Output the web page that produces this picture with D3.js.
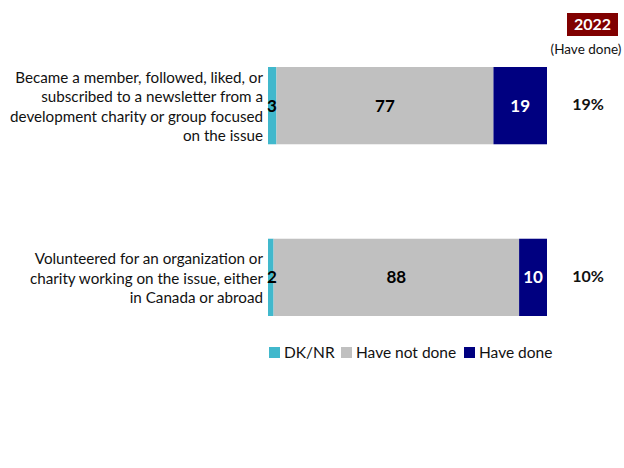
<!DOCTYPE html>
<html><head><meta charset="utf-8">
<script src="https://cdn.jsdelivr.net/npm/d3@7"></script>
<style>body{margin:0;background:#fff;} svg{display:block;font-family:Lato,"Open Sans",sans-serif;}</style>
</head><body>
<svg id="c" width="624" height="468"></svg>
<script>
const categories = [
  ["Became a member, followed, liked, or","subscribed to a newsletter from a","development  charity or group focused","on the issue"],
  ["Volunteered  for an organization or","charity working on the issue, either","in Canada or abroad"]
];
const seriesNames = ["DK/NR","Have not done","Have done"];
const dknr = [3, 2];
const haveNotDone = [77, 88];
const haveDone = [19, 10];
const haveDone2022 = ["19%", "10%"];
const colors = ["#41B8CC", "#C0C0C0", "#000080"];

const svg = d3.select("#c");
const rows = categories.map((c,i)=>({i, "DK/NR":dknr[i], "Have not done":haveNotDone[i], "Have done":haveDone[i]}));
const stack = d3.stack().keys(seriesNames).offset(d3.stackOffsetExpand)(rows);

const x = d3.scaleLinear().domain([0,1]).range([268,547]);
const y = d3.scaleBand().domain([0,1]).range([67,316]).paddingInner(0.55).paddingOuter(0);

const g = svg.append("g");
stack.forEach((s,k)=>{
  g.selectAll(null).data(s).enter().append("rect")
    .attr("x", d=>x(d[0])).attr("width", d=>x(d[1])-x(d[0]))
    .attr("y", (d,i)=>y(i)).attr("height", y.bandwidth())
    .attr("fill", colors[k]);
});
stack.forEach((s,k)=>{
  g.selectAll(null).data(s).enter().append("text")
    .attr("x", d=> k===0 ? x(d[0])+4 : (x(d[0])+x(d[1]))/2)
    .attr("y", (d,i)=>y(i)+y.bandwidth()/2)
    .attr("dy","0.35em").attr("text-anchor","middle")
    .attr("font-size",17).attr("font-weight","bold")
    .attr("fill", k===2 ? "#fff" : "#000")
    .text((d,i)=>[dknr,haveNotDone,haveDone][k][i]);
});

// category labels
categories.forEach((lines,i)=>{
  const cy = y(i)+y.bandwidth()/2 + 1;
  const lh = 19.5;
  const t = svg.append("text").attr("text-anchor","end").attr("font-size",15.2).attr("fill","#111");
  lines.forEach((l,j)=>{
    t.append("tspan").attr("x",263).attr("y", cy + (j-(lines.length-1)/2)*lh).attr("dy","0.35em").text(l);
  });
});

// 2022 column
svg.append("rect").attr("x",567).attr("y",13).attr("width",51).attr("height",23).attr("fill","#800000");
svg.append("text").attr("x",592.5).attr("y",24.5).attr("dy","0.35em").attr("text-anchor","middle")
  .attr("font-size",16).attr("font-weight","bold").attr("fill","#fff").text("2022");
svg.append("text").attr("x",586).attr("y",49).attr("dy","0.35em").attr("text-anchor","middle")
  .attr("font-size",13.5).attr("fill","#111").text("(Have done)");
haveDone2022.forEach((v,i)=>{
  svg.append("text").attr("x",588).attr("y",y(i)+y.bandwidth()/2-1).attr("dy","0.35em").attr("text-anchor","middle")
    .attr("font-size",16).attr("font-weight","bold").attr("fill","#111").text(v);
});

// legend
const leg = svg.append("g");
let lx = 269;
const widths = [72, 123, 0];
seriesNames.forEach((n,k)=>{
  leg.append("rect").attr("x",lx).attr("y",347).attr("width",11).attr("height",11).attr("fill",colors[k]);
  leg.append("text").attr("x",lx+15).attr("y",353).attr("dy","0.35em").attr("font-size",15.5).attr("fill","#111").text(n);
  lx += widths[k];
});
</script>
</body></html>
